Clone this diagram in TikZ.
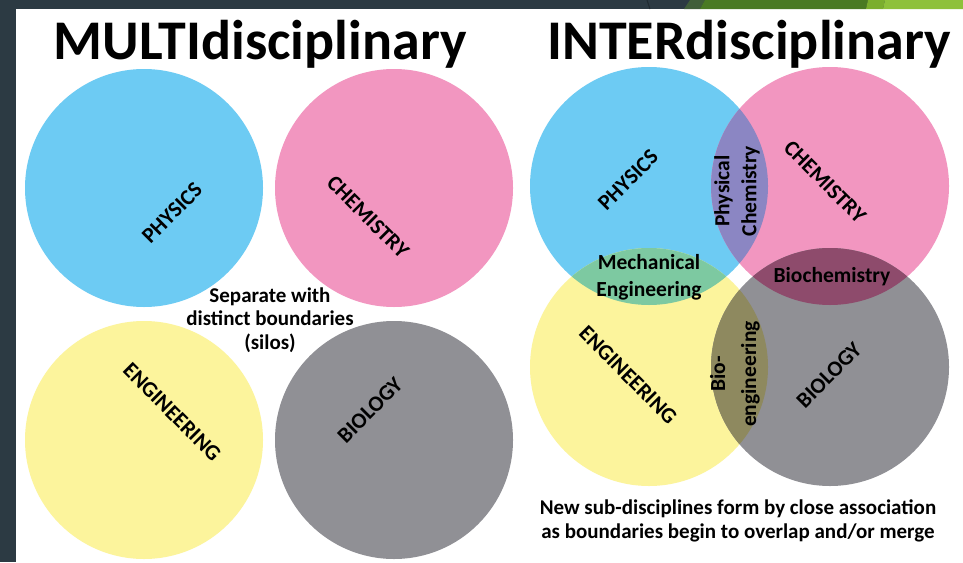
\documentclass[tikz,border=0pt]{standalone}
\usepackage{fontspec}
\setmainfont{Carlito}
\usepackage{xcolor}

\definecolor{slate}{HTML}{2C3A43}
\definecolor{slateline}{HTML}{1F2A30}
\definecolor{leafdark}{HTML}{405E39}
\definecolor{leaf}{HTML}{4A7A23}
\definecolor{leaflight}{HTML}{7BAE2D}
\definecolor{leafpale}{HTML}{8EC13A}
\definecolor{physblue}{HTML}{6DCBF3}
\definecolor{chempink}{HTML}{F296C0}
\definecolor{engyellow}{HTML}{FCF49C}
\definecolor{biogray}{HTML}{909095}
\definecolor{physchem}{HTML}{8B86C3}
\definecolor{mecheng}{HTML}{7DC9A1}
\definecolor{biochem}{HTML}{8E4B6C}
\definecolor{bioeng}{HTML}{8E895F}

\tikzset{
  heading/.style={font=\bfseries\fontsize{56}{60}\selectfont, anchor=base, inner sep=0pt},
  field/.style={font=\bfseries\fontsize{22}{24}\selectfont, inner sep=0pt},
  overlap/.style={font=\bfseries\fontsize{21.5}{27}\selectfont, align=center, inner sep=0pt},
  note/.style={font=\bfseries\fontsize{21}{23.5}\selectfont, align=center, inner sep=0pt}
}

\begin{document}
\begin{tikzpicture}[x=1pt, y=-1pt]
		%% Slide frame: dark border on the left and top, white page inside
		\useasboundingbox (0,0) rectangle (963,562);
		\fill[slate] (0,0) rectangle (963,562);
		\fill[white] (16,9) rectangle (963,562);
		%% Green strip at the top right corner of the slide
		\draw[slateline, line width=1pt] (647,0) -- (650,9);
		\fill[leafdark] (684,9) -- (690,0) -- (705,0) -- (700,9) -- cycle;
		\fill[leaf] (700,9) -- (705,0) -- (868,0) -- (866,9) -- cycle;
		\fill[leaflight] (866,9) -- (868,0) -- (885,0) -- (883,9) -- cycle;
		\fill[leafpale] (883,9) -- (885,0) -- (963,0) -- (963,9) -- cycle;

		%% Headings
		\node[heading] (multi) at (260,59) {MULTIdisciplinary};
		\node[heading] (inter) at (749,59) {INTERdisciplinary};

		%% Left: four separate circles
		\fill[physblue] (144,188) circle (119);
		\fill[chempink] (394,188) circle (119);
		\fill[engyellow] (144,440) circle (119);
		\fill[biogray] (394,440) circle (119);
		\node[field, rotate=45] (mphys) at (172,213) {PHYSICS};
		\node[field, rotate=-45] (mchem) at (368,217) {CHEMISTRY};
		\node[field, rotate=-45] (meng) at (172,412) {ENGINEERING};
		\node[field, rotate=45] (mbio) at (370,410) {BIOLOGY};
		\node[note] (silos) at (270,320) {Separate with\\distinct boundaries\\(silos)};

		%% Right: the same four circles, pushed together so they overlap
		\fill[physblue] (649,186) circle (119);
		\fill[chempink] (830,186) circle (119);
		\fill[engyellow] (649,367) circle (119);
		\fill[biogray] (830,367) circle (119);
		%% Each overlap gets its own colour: clip to one circle, fill the other
		\begin{scope}
			\clip (649,186) circle (119);
			\fill[physchem] (830,186) circle (119);
			\fill[mecheng] (649,367) circle (119);
		\end{scope}
		\begin{scope}
			\clip (830,367) circle (119);
			\fill[biochem] (830,186) circle (119);
			\fill[bioeng] (649,367) circle (119);
		\end{scope}
		\node[field, rotate=45] (iphys) at (628,180) {PHYSICS};
		\node[field, rotate=-45] (ichem) at (825,182) {CHEMISTRY};
		\node[field, rotate=-45] (ieng) at (628,375) {ENGINEERING};
		\node[field, rotate=45] (ibio) at (829,375) {BIOLOGY};
		\node[overlap, rotate=90] (pchem) at (737,191) {Physical\\Chemistry};
		\node[overlap] (meng2) at (649,277) {Mechanical\\Engineering};
		\node[overlap] (bchem) at (832,277) {Biochemistry};
		\node[overlap, rotate=90] (beng) at (735,374) {Bio-\\[4pt]engineering};
		\node[note] (merge) at (738,521) {New sub-disciplines form by close association\\as boundaries begin to overlap and/or merge};
		%\draw[help lines, step=50] (0,0) grid (963,562);
	\end{tikzpicture}
\end{document}
